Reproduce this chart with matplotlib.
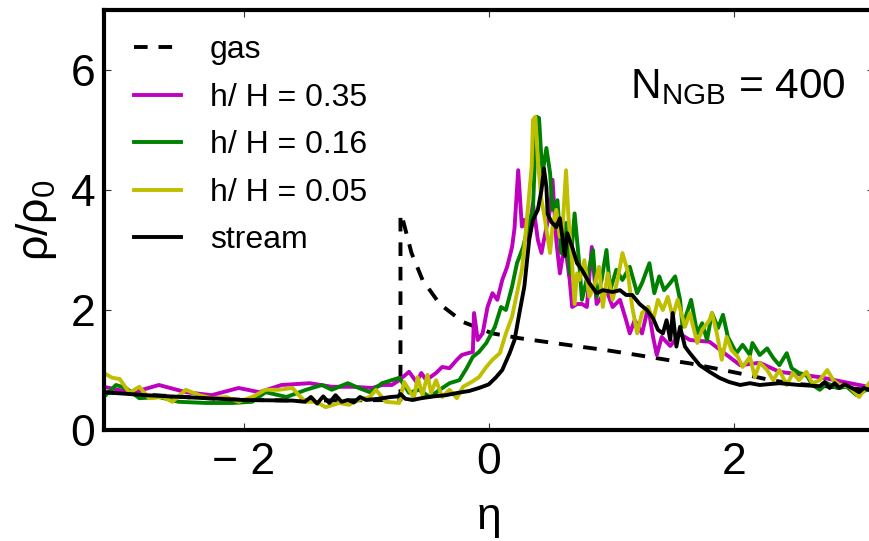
import numpy as np
import matplotlib
matplotlib.use("Agg")
import matplotlib.pyplot as plt

plt.rcParams['font.family'] = ['Liberation Sans', 'DejaVu Sans']
plt.rcParams['mathtext.fontset'] = 'custom'
plt.rcParams['mathtext.rm'] = 'Liberation Sans'
plt.rcParams['mathtext.it'] = 'Liberation Sans'
plt.rcParams['mathtext.default'] = 'regular'

# ---- data ----
gas_x = [-3.14, -2.4, -2.0, -1.5, -0.72, -0.72, -0.70, -0.63, -0.54, -0.40, -0.21, 0.03, 0.25,
         0.74, 0.96, 1.21, 1.45, 1.64, 1.91, 2.10, 2.3, 2.5, 2.8, 3.14]
gas_y = [0.63, 0.54, 0.50, 0.49, 0.50, 3.6, 3.5, 2.95, 2.5, 2.1, 1.8, 1.61, 1.53,
         1.39, 1.33, 1.25, 1.17, 1.11, 1.0, 0.92, 0.83, 0.77, 0.72, 0.66]

h035_x = [-3.14, -2.91, -2.69, -2.47, -2.26, -2.04, -1.87, -1.69, -1.46, -1.28, -1.11, -0.95, -0.87,
          -0.79, -0.73, -0.65, -0.59, -0.55, -0.51, -0.43, -0.38, -0.32, -0.26, -0.22, -0.17, -0.13,
          -0.12, -0.09, -0.05, -0.01, 0.03, 0.07, 0.11, 0.15, 0.19, 0.21, 0.24, 0.27, 0.29, 0.32,
          0.36, 0.40, 0.43, 0.45, 0.50, 0.52, 0.55, 0.58, 0.62, 0.66, 0.68, 0.72, 0.76, 0.80, 0.84,
          0.88, 0.96, 1.01, 1.07, 1.12, 1.15, 1.19, 1.25, 1.30, 1.34, 1.37, 1.41, 1.48, 1.56, 1.64,
          1.80, 2.05, 2.21, 2.37, 2.70, 3.02, 3.14]
h035_y = [0.72, 0.62, 0.75, 0.63, 0.58, 0.70, 0.63, 0.75, 0.78, 0.72, 0.72, 0.70, 0.75,
          0.75, 0.83, 0.97, 0.80, 0.95, 0.83, 0.95, 1.05, 1.03, 1.17, 1.25, 1.28, 1.30,
          1.95, 1.50, 1.61, 2.05, 2.28, 2.17, 2.50, 2.72, 3.05, 3.36, 4.33, 3.39, 3.50, 3.17,
          3.78, 3.17, 2.95, 3.17, 3.67, 4.17, 3.17, 2.61, 3.11, 2.50, 2.05, 2.10, 2.10, 2.05, 3.05,
          2.10, 2.33, 2.05, 2.17, 1.83, 1.61, 1.83, 1.61, 2.05, 1.55, 1.25, 1.55, 1.40, 1.60, 1.50,
          1.47, 1.08, 1.12, 0.97, 0.88, 0.75, 0.70]

h016_x = [-3.14, -3.04, -2.96, -2.85, -2.69, -2.53, -2.30, -2.09, -1.93, -1.82, -1.65, -1.49, -1.36,
          -1.28, -1.15, -1.06, -0.97, -0.87, -0.73, -0.65, -0.57, -0.48, -0.40, -0.32, -0.24, -0.18,
          -0.13, -0.08, -0.02, 0.05, 0.10, 0.14, 0.19, 0.23, 0.28, 0.32, 0.36, 0.39, 0.41, 0.43,
          0.44, 0.47, 0.50, 0.52, 0.56, 0.59, 0.63, 0.66, 0.70, 0.74, 0.76, 0.81, 0.85, 0.88, 0.92,
          0.96, 0.99, 1.04, 1.09, 1.15, 1.21, 1.25, 1.31, 1.35, 1.39, 1.43, 1.48, 1.52, 1.56, 1.58,
          1.65, 1.70, 1.74, 1.78, 1.82, 1.87, 1.91, 1.95, 2.02, 2.07, 2.13, 2.15, 2.21, 2.27, 2.32,
          2.37, 2.43, 2.47, 2.53, 2.59, 2.64, 2.70, 2.76, 2.84, 2.92, 3.00, 3.08, 3.14]
h016_y = [0.55, 0.75, 0.70, 0.53, 0.55, 0.47, 0.45, 0.45, 0.47, 0.63, 0.55, 0.67, 0.75,
          0.67, 0.78, 0.70, 0.63, 0.78, 0.87, 0.62, 0.67, 0.55, 0.67, 0.78, 0.83, 1.03,
          1.22, 1.30, 1.45, 1.72, 2.05, 2.00, 2.39, 2.78, 3.05, 3.39, 3.67, 5.22, 5.20, 4.50,
          4.30, 4.70, 4.28, 3.67, 3.83, 2.95, 3.45, 2.61, 3.61, 2.72, 2.17, 2.61, 3.00, 2.22, 2.50,
          3.00, 2.33, 2.67, 2.50, 2.72, 2.28, 2.45, 2.78, 2.28, 2.56, 2.33, 2.45, 2.56, 2.17, 1.72,
          2.17, 1.61, 1.78, 1.50, 1.95, 1.70, 1.92, 1.55, 1.28, 1.42, 1.25, 1.45, 1.25, 1.36, 1.20,
          1.08, 1.28, 1.03, 0.95, 0.92, 0.75, 0.67, 0.78, 0.70, 0.72, 0.58, 0.67, 0.65]

h005_x = [-3.14, -3.07, -3.01, -2.93, -2.85, -2.77, -2.66, -2.58, -2.47, -2.36, -2.26, -2.14, -2.04,
          -1.93, -1.82, -1.71, -1.60, -1.55, -1.49, -1.41, -1.33, -1.22, -1.14, -1.06, -0.97, -0.92,
          -0.84, -0.73, -0.69, -0.65, -0.61, -0.58, -0.54, -0.50, -0.47, -0.43, -0.38, -0.32, -0.26,
          -0.21, -0.14, -0.08, -0.02, 0.03, 0.09, 0.14, 0.19, 0.23, 0.27, 0.29, 0.32, 0.35, 0.36,
          0.38, 0.40, 0.43, 0.45, 0.50, 0.52, 0.55, 0.58, 0.60, 0.63, 0.65, 0.68, 0.70, 0.72, 0.74,
          0.78, 0.82, 0.86, 0.90, 0.93, 0.97, 1.01, 1.05, 1.09, 1.13, 1.17, 1.21, 1.25, 1.30, 1.34,
          1.38, 1.42, 1.46, 1.50, 1.54, 1.60, 1.64, 1.70, 1.74, 1.80, 1.82, 1.86, 1.90, 1.94, 1.98,
          2.03, 2.07, 2.13, 2.17, 2.21, 2.27, 2.32, 2.37, 2.43, 2.48, 2.53, 2.59, 2.64, 2.70, 2.76,
          2.81, 2.86, 2.94, 3.02, 3.08, 3.14]
h005_y = [0.95, 0.87, 0.85, 0.62, 0.72, 0.53, 0.55, 0.47, 0.67, 0.58, 0.53, 0.55, 0.47,
          0.55, 0.67, 0.67, 0.70, 0.58, 0.47, 0.47, 0.38, 0.45, 0.42, 0.50, 0.55, 0.67,
          0.47, 0.45, 0.80, 0.67, 0.53, 0.88, 0.58, 0.92, 0.62, 0.83, 0.55, 0.67, 0.53,
          0.72, 0.80, 0.88, 1.05, 1.17, 1.28, 1.61, 1.89, 2.28, 2.67, 3.05, 3.72, 4.39, 5.17,
          5.22, 4.50, 3.83, 3.61, 2.95, 3.39, 3.67, 3.22, 3.30, 4.33, 3.55, 2.78, 2.10, 2.61, 2.50,
          2.83, 2.22, 2.40, 2.72, 2.05, 2.61, 2.17, 2.50, 2.95, 2.67, 2.05, 1.61, 1.95, 2.05, 1.83,
          2.17, 2.00, 2.22, 1.89, 2.17, 1.72, 1.95, 1.45, 1.67, 1.83, 1.95, 1.61, 1.17, 1.55, 1.33,
          1.22, 1.05, 1.22, 0.88, 1.12, 1.00, 0.83, 1.00, 0.75, 0.95, 0.83, 0.97, 0.78, 0.83, 1.00,
          0.83, 0.75, 0.72, 0.55, 0.72, 0.88]

stream_x = [-3.14, -2.8, -2.4, -2.0, -1.6, -1.5, -1.45, -1.4, -1.35, -1.3, -1.25, -1.2, -1.15,
            -1.1, -1.05, -1.0, -0.9, -0.8, -0.74, -0.72, -0.68, -0.62, -0.55, -0.45, -0.35, -0.25,
            -0.16, -0.08, 0.0, 0.06, 0.11, 0.17, 0.21, 0.25, 0.29, 0.33, 0.36, 0.40, 0.43, 0.45,
            0.47, 0.48, 0.51, 0.55, 0.58, 0.62, 0.64, 0.68, 0.72, 0.76, 0.82, 0.88, 0.93, 1.01,
            1.07, 1.12, 1.17, 1.23, 1.29, 1.34, 1.38, 1.42, 1.45, 1.48, 1.50, 1.53, 1.56, 1.60,
            1.64, 1.72, 1.80, 1.88, 1.96, 2.05, 2.13, 2.21, 2.37, 2.53, 2.70, 2.74, 2.78, 2.82,
            2.86, 2.90, 2.94, 2.98, 3.02, 3.06, 3.10, 3.14]
stream_y = [0.63, 0.58, 0.54, 0.50, 0.49, 0.47, 0.55, 0.44, 0.56, 0.45, 0.58, 0.47, 0.50,
            0.46, 0.55, 0.50, 0.52, 0.55, 0.56, 0.60, 0.52, 0.50, 0.53, 0.56, 0.58, 0.62,
            0.65, 0.70, 0.76, 0.88, 1.00, 1.28, 1.50, 1.95, 2.39, 3.17, 3.50, 3.67, 4.00, 4.36,
            4.05, 3.60, 3.47, 3.38, 3.53, 2.90, 3.28, 3.05, 2.78, 2.67, 2.45, 2.28, 2.33, 2.30,
            2.33, 2.25, 2.25, 2.10, 2.00, 1.86, 1.67, 1.61, 1.83, 1.50, 1.95, 1.39, 1.72, 1.39,
            1.28, 1.08, 0.97, 0.87, 0.80, 0.75, 0.78, 0.75, 0.78, 0.75, 0.73, 0.80, 0.70, 0.78,
            0.70, 0.76, 0.72, 0.68, 0.63, 0.70, 0.67, 0.65]

labels = ['gas', 'h/ H = 0.35', 'h/ H = 0.16', 'h/ H = 0.05', 'stream']
colors = ['k', (0.75, 0, 0.75), (0, 0.5, 0), (0.75, 0.75, 0), 'k']

fig = plt.figure(figsize=(8.7, 5.41), dpi=100)
ax = fig.add_axes([0.119, 0.2052, 0.8856, 0.7763])

lw = 2.8
ax.plot(gas_x, gas_y, color=colors[0], lw=lw, linestyle=(0, (3.5, 2.8)), label=labels[0])
ax.plot(h035_x, h035_y, color=colors[1], lw=lw, label=labels[1])
ax.plot(h016_x, h016_y, color=colors[2], lw=lw, label=labels[2])
ax.plot(h005_x, h005_y, color=colors[3], lw=lw, label=labels[3])
ax.plot(stream_x, stream_y, color=colors[4], lw=lw, label=labels[4])

ax.set_xlim(-np.pi, np.pi)
ax.set_ylim(0, 7)
ax.set_xticks([-2, 0, 2])
ax.set_xticklabels(['\u2212 2', '0', '2'])
ax.set_yticks([0, 2, 4, 6])
ax.tick_params(direction='in', length=5, width=0.8, top=True, right=True,
               labelsize=32, color='#333333')
ax.tick_params(axis='x', pad=9)
ax.tick_params(axis='y', pad=6)
for s in ax.spines.values():
    s.set_linewidth(3)

ax.set_xlabel('\u03b7', fontsize=32, labelpad=10)
ax.set_ylabel('\u03c1/\u03c1$_0$', fontsize=32, labelpad=8)

ax.text(0.683, 0.79, 'N$_{NGB}$ = 400', transform=ax.transAxes, fontsize=30.5,
        ha='left', va='baseline')

ax.legend(loc='upper left', bbox_to_anchor=(0.04, 0.94), frameon=False, fontsize=23,
          handlelength=1.47, handletextpad=0.9, labelspacing=0.55, borderpad=0,
          borderaxespad=0)

fig.savefig('out.png', dpi=100)
